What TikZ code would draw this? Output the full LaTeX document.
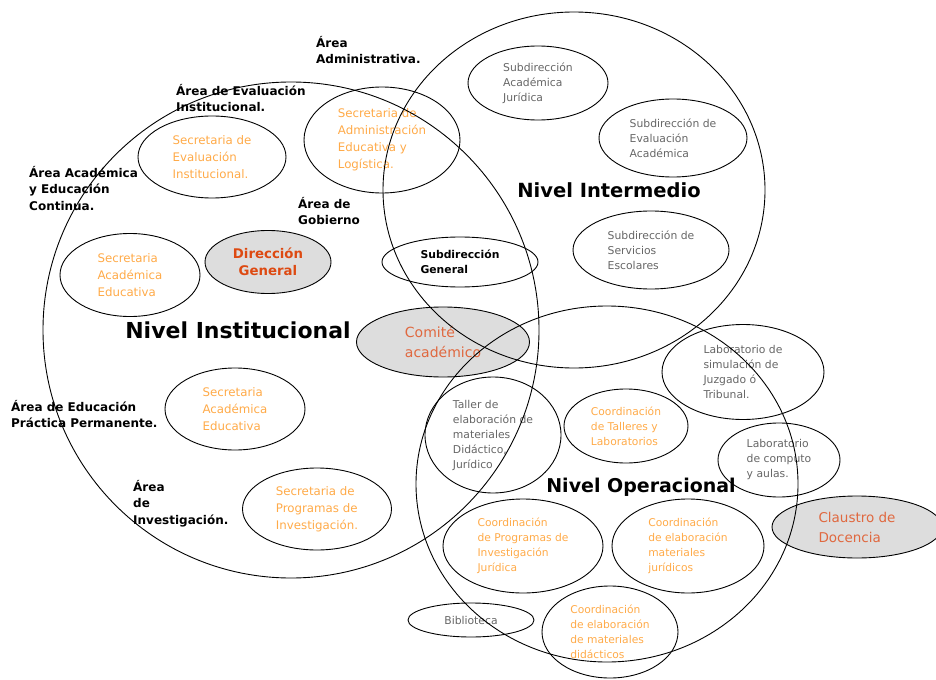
\documentclass[tikz,border=0pt]{standalone}
\usepackage{fontspec}
\setmainfont{DejaVu Sans}
\usepackage{tikz}
\usetikzlibrary{shapes.geometric}
\definecolor{secorange}{HTML}{FFAA48}
\definecolor{subgray}{HTML}{666666}
\definecolor{hubred}{HTML}{DD4A12}
\definecolor{comiteorange}{HTML}{E0683F}
\definecolor{hubfill}{HTML}{DDDDDD}
\tikzset{
	area/.style={align=left,anchor=north west,inner sep=0pt,font=\fontsize{12bp}{16.5bp}\selectfont\bfseries},
	nivel/.style={inner sep=0pt,font=\fontsize{22bp}{26bp}\selectfont\bfseries},
	unit/.style={ellipse,draw=black,line width=0.9pt,inner sep=0pt,align=left},
	ring/.style={ellipse,draw=black,line width=0.9pt,inner sep=0pt},
	secr/.style={unit,text=secorange,font=\fontsize{11.8bp}{17bp}\selectfont},
	subd/.style={unit,text=subgray,font=\fontsize{10.8bp}{15bp}\selectfont},
	coord/.style={unit,text=secorange,font=\fontsize{10.7bp}{15bp}\selectfont},
	hub/.style={unit,fill=hubfill}
}
\begin{document}
\begin{tikzpicture}[x=1bp,y=-1bp]
	\useasboundingbox (0,0) rectangle (936,680);
	\node (dirgen)[hub,minimum width=126bp,minimum height=63bp,text=hubred,font=\fontsize{13.3bp}{17bp}\selectfont\bfseries,align=center] at (268,262) {Dirección\\General};
	\node (comite)[hub,minimum width=173bp,minimum height=70bp,text=comiteorange,font=\fontsize{14bp}{20bp}\selectfont] at (443,342) {Comité\\académico};
	\node (claustro)[hub,minimum width=170bp,minimum height=62bp,text=comiteorange,font=\fontsize{13.5bp}{20bp}\selectfont] at (857,527) {Claustro de\\Docencia};
	\node (seceval)[secr,minimum width=148bp,minimum height=82bp] at (212,157) {Secretaria de\\Evaluación\\Institucional.};
	\node (secadmin)[secr,minimum width=156bp,minimum height=106bp] at (382,140) {Secretaria de\\Administración\\Educativa y\\Logística.};
	\node (secacadA)[secr,minimum width=140bp,minimum height=83bp] at (130,275) {Secretaria\\Académica\\Educativa};
	\node (secacadB)[secr,minimum width=140bp,minimum height=82bp] at (235,409) {Secretaria\\Académica\\Educativa};
	\node (secinvest)[secr,minimum width=149bp,minimum height=82bp] at (317,509) {Secretaria de\\Programas de\\Investigación.};
	\node (subgen)[unit,minimum width=156bp,minimum height=50bp,font=\fontsize{10.8bp}{15bp}\selectfont\bfseries] at (460,262) {Subdirección\\General};
	\node (subjur)[subd,minimum width=140bp,minimum height=74bp] at (538,83) {Subdirección\\Académica\\Jurídica};
	\node (subeval)[subd,minimum width=148bp,minimum height=78bp] at (673,138) {Subdirección de\\Evaluación\\Académica};
	\node (subserv)[subd,minimum width=156bp,minimum height=78bp] at (651,250) {Subdirección de\\Servicios\\Escolares};
	\node (labsim)[subd,minimum width=162bp,minimum height=95bp] at (743,372) {Laboratorio de\\simulación de\\Juzgado ó\\Tribunal.};
	\node (taller)[subd,minimum width=136bp,minimum height=116bp] at (493,435) {Taller de\\elaboración de\\materiales\\Didáctico,\\Jurídico};
	\node (coordtall)[coord,minimum width=124bp,minimum height=74bp] at (626,426) {Coordinación\\de Talleres y\\Laboratorios};
	\node (labcomp)[subd,minimum width=122bp,minimum height=74bp] at (779,460) {Laboratorio\\de computo\\y aulas.};
	\node (coordinv)[coord,minimum width=160bp,minimum height=94bp] at (523,546) {Coordinación\\de Programas de\\Investigación\\Jurídica};
	\node (coordjur)[coord,minimum width=152bp,minimum height=94bp] at (688,546) {Coordinación\\de elaboración\\materiales\\jurídicos};
	\node (biblio)[subd,minimum width=126bp,minimum height=34bp] at (471,620) {Biblioteca};
	\node (coorddid)[coord,minimum width=136bp,minimum height=92bp] at (610,632) {Coordinación\\de elaboración\\de materiales\\didácticos};
	\node (institucional)[ring,minimum width=496bp,minimum height=496bp] at (291,330) {};
	\node (intermedio)[ring,minimum width=382bp,minimum height=356bp] at (574,190) {};
	\node (operacional)[ring,minimum width=382bp,minimum height=356bp] at (607,484) {};
	\node (nivinst)[nivel] at (238,330) {Nivel Institucional};
	\node (nivinter)[nivel,font=\fontsize{19.5bp}{24bp}\selectfont\bfseries] at (609,190) {Nivel Intermedio};
	\node (nivoper)[nivel,font=\fontsize{19bp}{24bp}\selectfont\bfseries] at (641,487) {Nivel Operacional};
	\node (areaadmin)[area] at (316,36) {Área\\Administrativa.};
	\node (areaeval)[area] at (176,84) {Área de Evaluación\\Institucional.};
	\node (areaacad)[area] at (29,166) {Área Académica\\y Educación\\Continua.};
	\node (areagob)[area] at (298,197) {Área de\\Gobierno};
	\node (areaprac)[area] at (11,400) {Área de Educación\\Práctica Permanente.};
	\node (areainv)[area] at (133,480) {Área\\de\\Investigación.};
\end{tikzpicture}
\end{document}
